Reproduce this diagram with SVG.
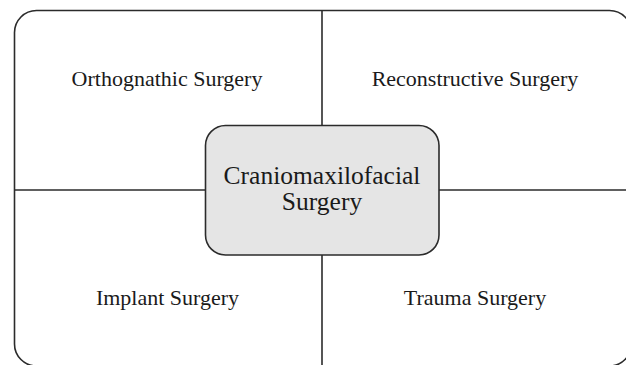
<svg xmlns="http://www.w3.org/2000/svg" width="626" height="365" viewBox="0 0 626 365">
<style>
.ln{stroke:#2b2b2b;stroke-width:1.6;fill:none}
.lbl{font-family:"Liberation Serif","Times New Roman",serif;font-size:22px;fill:#1a1a1a;text-anchor:middle}
.ctr{font-family:"Liberation Serif","Times New Roman",serif;font-size:25.5px;fill:#1a1a1a;text-anchor:middle}
</style>
<rect width="626" height="365" fill="#ffffff"/>
<g id="frame">
<rect class="ln" x="14.5" y="10.5" width="617" height="355.5" rx="22" ry="22"/>
</g>
<g id="connectors">
<line class="ln" x1="322" y1="10.5" x2="322" y2="125"/>
<line class="ln" x1="322" y1="255" x2="322" y2="366"/>
<line class="ln" x1="14.5" y1="190" x2="205" y2="190"/>
<line class="ln" x1="439" y1="190" x2="631.5" y2="190"/>
</g>
<g id="orthognathic">
<text class="lbl" x="167" y="86">Orthognathic Surgery</text>
</g>
<g id="reconstructive">
<text class="lbl" x="475" y="86">Reconstructive Surgery</text>
</g>
<g id="implant">
<text class="lbl" x="167.5" y="305">Implant Surgery</text>
</g>
<g id="trauma">
<text class="lbl" x="475" y="305">Trauma Surgery</text>
</g>
<g id="center">
<rect x="205.5" y="125.5" width="233.5" height="129.5" rx="20" ry="20" fill="#e5e5e5" stroke="#2b2b2b" stroke-width="1.6"/>
<text class="ctr" x="322" y="184">Craniomaxilofacial</text>
<text class="ctr" x="322" y="210">Surgery</text>
</g>
</svg>
